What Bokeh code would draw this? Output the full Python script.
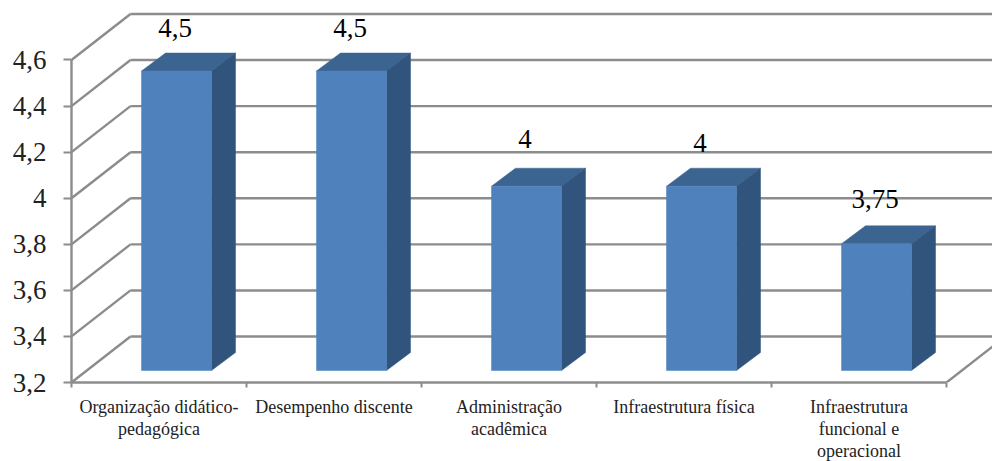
from bokeh.plotting import figure
from bokeh.models import FixedTicker, ColumnDataSource, Range1d
from bokeh.core.properties import value
from bokeh.embed import file_html
from bokeh.resources import INLINE

categories = ["Organização didático-\npedagógica", "Desempenho discente", "Administração\nacadêmica",
              "Infraestrutura física", "Infraestrutura\nfuncional e\noperacional"]
values = [4.5, 4.5, 4.0, 4.0, 3.75]
value_labels = ["4,5", "4,5", "4", "4", "3,75"]
y_ticks = [3.2, 3.4, 3.6, 3.8, 4.0, 4.2, 4.4, 4.6]
y_labels = ["3,2", "3,4", "3,6", "3,8", "4", "4,2", "4,4", "4,6"]

GRID = "#8C8C8C"
FRONT, TOP, SIDE = "#4F81BD", "#3C6491", "#31547D"
FONT = "Liberation Serif"

W, H = 992, 461
L, FH = 71, 382
XPX, YPX = 175.0, 230.36          # pixels per category / per value unit
x_max = (W - L) / XPX
y_max = 3.2 + FH / YPX

p = figure(width=W, height=H, frame_width=W - L, frame_height=FH,
           output_backend="svg", toolbar_location=None,
           x_range=Range1d(0, x_max), y_range=Range1d(3.2, y_max),
           min_border_left=L, min_border_bottom=0, min_border_top=0, min_border_right=0,
           outline_line_color=None, background_fill_color="white", border_fill_color="white")
p.grid.visible = False

# Walls: back grid lines and diagonals
DX, DY = 59 / XPX, 46 / YPX
p.segment([DX] * len(y_ticks), [t + DY for t in y_ticks], [x_max] * len(y_ticks), [t + DY for t in y_ticks],
          line_color=GRID, line_width=2.4)
p.segment([0] * len(y_ticks), y_ticks, [DX] * len(y_ticks), [t + DY for t in y_ticks],
          line_color=GRID, line_width=2.4)
p.segment([5], [3.2], [5 + DX], [3.2 + DY], line_color=GRID, line_width=2.4)

# Bars
OX, OY = 17.5 / XPX, 12 / YPX     # placement of the bar inside the depth
BW = 0.4
BX, BY = 24 / XPX, 18 / YPX       # depth of the bar itself
base = 3.2 + OY
fx0 = [i + 0.5 + OX - BW / 2 for i in range(5)]
fx1 = [x + BW for x in fx0]
tops = [base + (v - 3.2) for v in values]

p.patches([[a, b, b + BX, a + BX] for a, b in zip(fx0, fx1)],
          [[t, t, t + BY, t + BY] for t in tops], fill_color=TOP, line_color=TOP, line_width=0.5)
p.patches([[b, b + BX, b + BX, b] for b in fx1],
          [[base, base + BY, t + BY, t] for t in tops], fill_color=SIDE, line_color=SIDE, line_width=0.5)
p.quad(left=fx0, right=fx1, bottom=base, top=tops, fill_color=FRONT, line_color=FRONT, line_width=0.5)

# Data labels
src = ColumnDataSource(dict(x=[a + BW / 2 for a in fx0], y=tops, t=value_labels,
                            off=[-43, -43, -47, -43, -45], xoff=[-1.5, -1.5, -1.5, -1.5, -1.5]))
p.text("x", "y", text="t", source=src, x_offset="xoff", y_offset="off", text_align="center", text_baseline="middle",
       text_font=value(FONT), text_font_size="27px", text_color="#000000")

# Axes
ax = p.yaxis[0]
ax.ticker = FixedTicker(ticks=y_ticks)
ax.major_label_overrides = dict(zip(y_ticks, y_labels))
ax.bounds = (3.2, 4.6)
ax.axis_line_color = GRID
ax.axis_line_width = 2.4
ax.major_tick_line_color = GRID
ax.major_tick_line_width = 2
ax.major_tick_in = 0
ax.major_tick_out = 8
ax.minor_tick_line_color = None
ax.major_label_standoff = 17
ax.major_label_text_font = FONT
ax.major_label_text_font_size = "27px"
ax.major_label_text_color = "#222222"

bx = p.xaxis[0]
centers = [i + 0.5 for i in range(5)]
bx.ticker = FixedTicker(ticks=centers, minor_ticks=[0, 1, 2, 3, 4, 5])
bx.major_label_overrides = dict(zip(centers, categories))
bx.bounds = (0, 5)
bx.axis_line_color = GRID
bx.axis_line_width = 2.4
bx.major_tick_line_color = None
bx.major_tick_in = 0
bx.major_tick_out = 0
bx.minor_tick_line_color = GRID
bx.minor_tick_line_width = 2
bx.minor_tick_in = 0
bx.minor_tick_out = 5
bx.major_label_standoff = 9
bx.major_label_orientation = "horizontal"
bx.major_label_text_font = FONT
bx.major_label_text_font_size = "18px"
bx.major_label_text_color = "#222222"
bx.major_label_text_line_height = 1.1

open("out.html", "w").write(file_html(p, INLINE))
